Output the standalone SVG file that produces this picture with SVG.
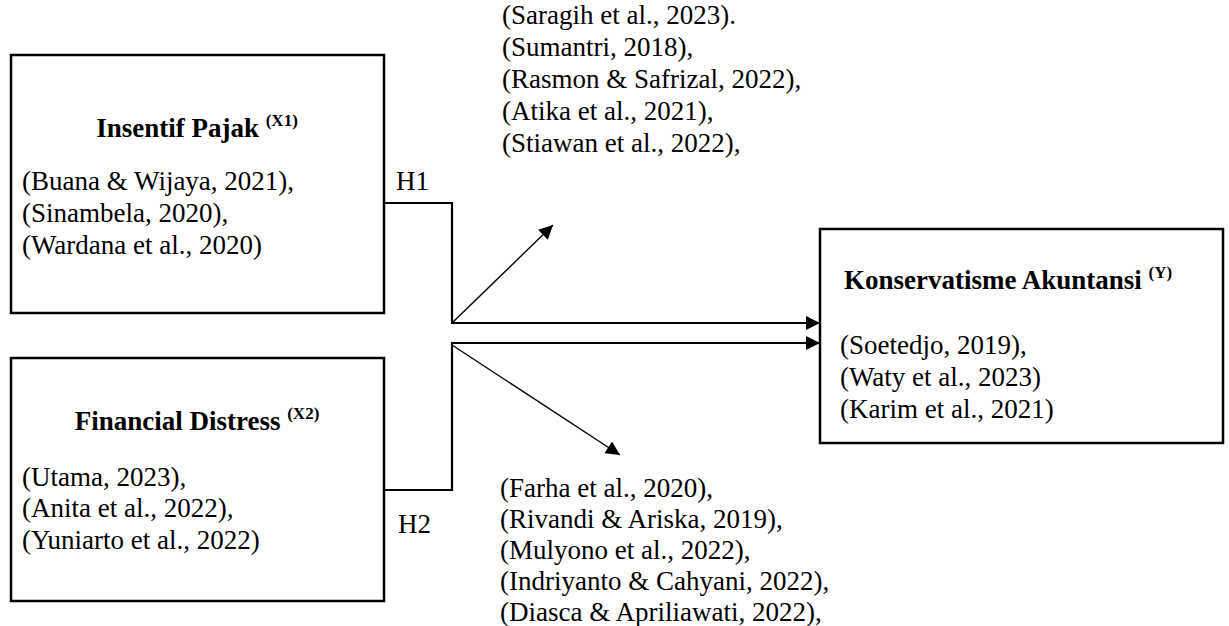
<svg xmlns="http://www.w3.org/2000/svg" width="1229" height="626" viewBox="0 0 1229 626">
<style>
.box{fill:#fff;stroke:#000;stroke-width:2.5}
.t{font-family:"Liberation Serif","Times New Roman",serif;font-size:27px;fill:#000}
.b{font-weight:bold}
.sup{font-size:17px;font-weight:bold}
.ln{fill:none;stroke:#000;stroke-width:2.2}
.dg{fill:none;stroke:#000;stroke-width:1.4}
</style>
<defs>
<marker id="ah" viewBox="0 0 10 10" refX="10" refY="5" markerUnits="userSpaceOnUse" markerWidth="16" markerHeight="14" orient="auto">
<path d="M0,0 L10,5 L0,10 z" fill="#000"/>
</marker>
</defs>
<rect width="1229" height="626" fill="#fff"/>
<g id="top-refs">
<text class="t"><tspan x="502" y="24">(Saragih et al., 2023).</tspan><tspan x="502" y="56">(Sumantri, 2018),</tspan><tspan x="502" y="88">(Rasmon &amp; Safrizal, 2022),</tspan><tspan x="502" y="120">(Atika et al., 2021),</tspan><tspan x="502" y="152">(Stiawan et al., 2022),</tspan></text>
</g>
<g id="bottom-refs">
<text class="t"><tspan x="500" y="497">(Farha et al., 2020),</tspan><tspan x="500" y="528">(Rivandi &amp; Ariska, 2019),</tspan><tspan x="500" y="559">(Mulyono et al., 2022),</tspan><tspan x="500" y="590">(Indriyanto &amp; Cahyani, 2022),</tspan><tspan x="500" y="621">(Diasca &amp; Apriliawati, 2022),</tspan></text>
</g>
<g id="node-x1">
<rect class="box" x="11" y="55" width="373" height="258"/>
<text class="t b" x="197" y="137" text-anchor="middle">Insentif Pajak <tspan class="sup" dy="-11">(X1)</tspan></text>
<text class="t"><tspan x="22" y="190">(Buana &amp; Wijaya, 2021),</tspan><tspan x="22" y="222">(Sinambela, 2020),</tspan><tspan x="22" y="254">(Wardana et al., 2020)</tspan></text>
</g>
<g id="node-x2">
<rect class="box" x="11" y="358" width="373" height="243"/>
<text class="t b" x="197" y="430" text-anchor="middle">Financial Distress <tspan class="sup" dy="-11">(X2)</tspan></text>
<text class="t"><tspan x="22" y="486">(Utama, 2023),</tspan><tspan x="22" y="517">(Anita et al., 2022),</tspan><tspan x="22" y="549">(Yuniarto et al., 2022)</tspan></text>
</g>
<g id="node-y">
<rect class="box" x="820" y="229" width="403" height="214"/>
<text class="t b" x="1008" y="289" text-anchor="middle">Konservatisme Akuntansi <tspan class="sup" dy="-11">(Y)</tspan></text>
<text class="t"><tspan x="840" y="354">(Soetedjo, 2019),</tspan><tspan x="840" y="386">(Waty et al., 2023)</tspan><tspan x="840" y="418">(Karim et al., 2021)</tspan></text>
</g>
<g id="connectors">
<polyline class="ln" points="384,203 452,203 452,323 820,323" marker-end="url(#ah)"/>
<polyline class="ln" points="384,490 452,490 452,343 820,343" marker-end="url(#ah)"/>
<line class="dg" x1="452" y1="323" x2="553" y2="225" marker-end="url(#ah)"/>
<line class="dg" x1="452" y1="345" x2="620" y2="455" marker-end="url(#ah)"/>
<text class="t" x="396" y="190">H1</text>
<text class="t" x="398" y="533">H2</text>
</g>
</svg>
